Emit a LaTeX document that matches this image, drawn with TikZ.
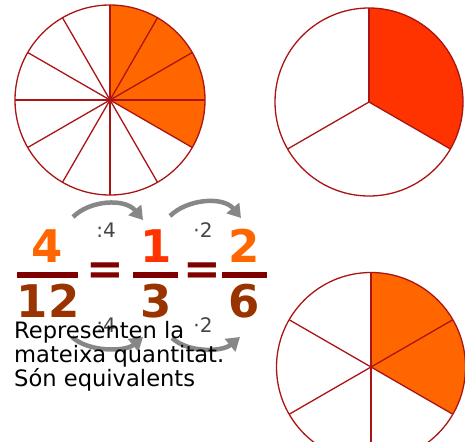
\documentclass[tikz,border=0pt]{standalone}
\usepackage{fontspec}
\setmainfont{DejaVu Sans}
\usetikzlibrary{arrows.meta}
\definecolor{pieline}{RGB}{170,20,20}
\definecolor{pieorange}{HTML}{FF6600}
\definecolor{piered}{HTML}{FF3300}
\definecolor{numbrown}{HTML}{993300}
\definecolor{barred}{HTML}{800000}
\definecolor{arrgray}{HTML}{878787}
\definecolor{opgray}{HTML}{454545}
\begin{document}
\begin{tikzpicture}[x=1pt,y=1pt,
    pie/.style={draw=pieline, line width=1.3pt},
    num/.style={font=\fontsize{45}{45}\selectfont\bfseries, inner sep=0pt, anchor=base},
    eqsign/.style={font=\fontsize{45}{45}\selectfont\bfseries, text=barred, inner sep=0pt},
    op/.style={font=\fontsize{20}{20}\selectfont, text=opgray, inner sep=0pt},
    curvearrow/.style={draw=arrgray, line width=4.5pt, -{Triangle[length=13pt,width=16pt]}},
    txt/.style={font=\fontsize{22.6}{22.6}\selectfont, inner sep=0pt, anchor=base west}]
    \useasboundingbox (0,0) rectangle (465,-441);
    \clip (0,0) rectangle (465,-441);
    % twelfths
    \coordinate (c12) at (110,-100);
    \fill[pieorange] (c12) -- ++(90:95) arc[start angle=90, end angle=-30, radius=95] -- cycle;
    \foreach \a in {0,30,...,330}
        \draw[pie] (c12) -- ++(\a:95);
    \draw[pie] (c12) circle[radius=95];
    % thirds
    \coordinate (c3) at (369,-102);
    \fill[piered] (c3) -- ++(90:94) arc[start angle=90, end angle=-30, radius=94] -- cycle;
    \foreach \a in {90,210,330}
        \draw[pie] (c3) -- ++(\a:94);
    \draw[pie] (c3) circle[radius=94];
    % sixths
    \coordinate (c6) at (371,-367);
    \fill[pieorange] (c6) -- ++(90:94.5) arc[start angle=90, end angle=-30, radius=94.5] -- cycle;
    \foreach \a in {30,90,...,330}
        \draw[pie] (c6) -- ++(\a:94.5);
    \draw[pie] (c6) circle[radius=94.5];
    % fractions
    \node[num, text=pieorange] (n4) at (47,-262) {4};
    \node[num, text=numbrown] (d12) at (48,-317) {12};
    \node[num, text=piered] (n1) at (156,-262) {1};
    \node[num, text=numbrown] (d3) at (156,-317) {3};
    \node[num, text=pieorange] (n2) at (244,-262) {2};
    \node[num, text=numbrown] (d6) at (244,-317) {6};
    \fill[barred] (17,-272) rectangle (78,-278);
    \fill[barred] (133,-272) rectangle (178,-278);
    \fill[barred] (222,-272) rectangle (267,-278);
    \node[eqsign] (eq1) at (105.5,-274) {=};
    \node[eqsign] (eq2) at (202,-274) {=};
    % arrows above
    \coordinate (t1a) at (73,-217);
    \coordinate (t1b) at (143,-220);
    \coordinate (t2a) at (170,-216);
    \coordinate (t2b) at (241,-218);
    \draw[curvearrow] (t1a) .. controls +(17,17) and +(-18,22) .. (t1b);
    \draw[curvearrow] (t2a) .. controls +(17,17) and +(-18,22) .. (t2b);
    \node[op] (o1) at (106,-230) {:4};
    \node[op] (o2) at (203,-230) {·2};
    % arrows below
    \coordinate (b1a) at (72,-337);
    \coordinate (b1b) at (143,-337);
    \coordinate (b2a) at (172,-338);
    \coordinate (b2b) at (240,-337);
    \node[op] (o3) at (106,-325) {:4};
    \node[op] (o4) at (203,-325) {·2};
    \draw[curvearrow] (b1a) .. controls +(16,-15) and +(-18,-15) .. (b1b);
    \draw[curvearrow] (b2a) .. controls +(16,-15) and +(-18,-15) .. (b2b);
    % text
    \node[txt] (l1) at (14,-338) {Representen la};
    \node[txt] (l2) at (14,-362) {mateixa quantitat.};
    \node[txt] (l3) at (14,-386) {Són equivalents};
\end{tikzpicture}
\end{document}
